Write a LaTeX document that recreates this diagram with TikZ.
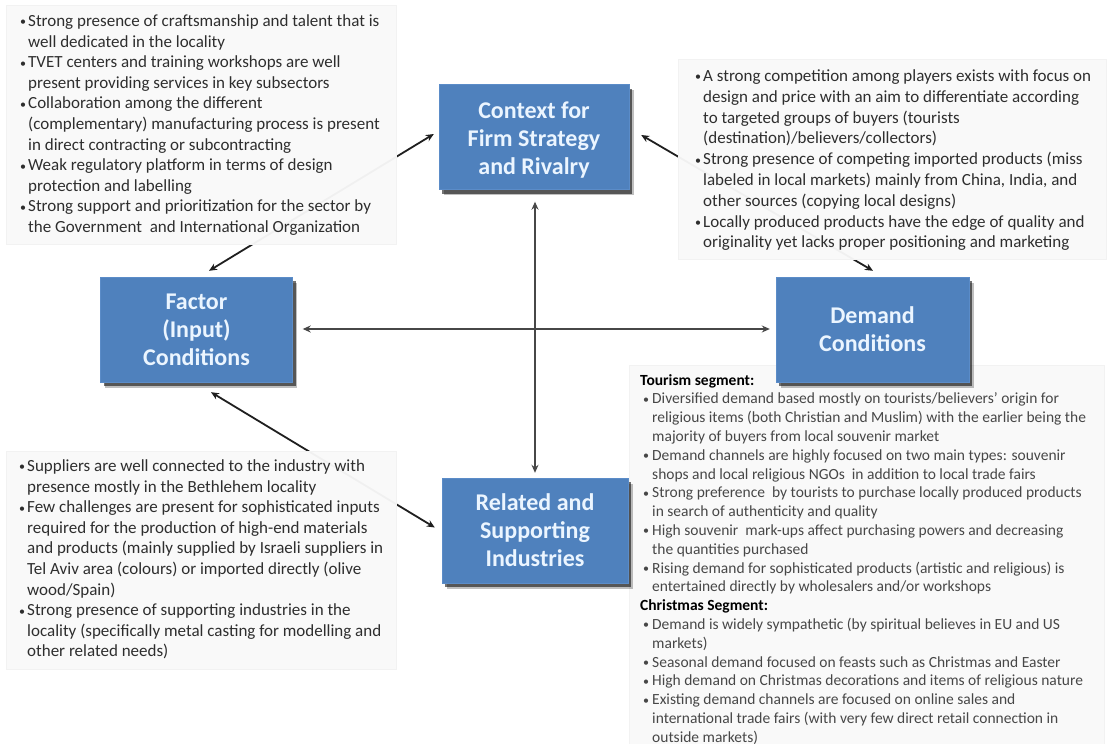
\documentclass[tikz,border=0pt]{standalone}
\usepackage{fontspec}
\setmainfont{Carlito}
\usetikzlibrary{calc,arrows.meta,shadows}

\definecolor{boxblue}{HTML}{4F81BD}
\definecolor{boxedge}{HTML}{5B8CC8}
\definecolor{boxtext}{rgb}{0.92,0.96,1}
\definecolor{panelfill}{HTML}{F9F9F9}
\definecolor{notetext}{HTML}{2E2E2E}

% small bullet mark used in the note lists
\newcommand{\dotmark}{\raisebox{0.6pt}{\fontsize{12}{12}\selectfont\textbullet}}
% bullet item with hanging indent; explicit \\ give the line breaks
\newcommand{\bul}{\par\hangindent=8pt\hangafter=1\noindent\makebox[8pt][l]{\dotmark}}
\newcommand{\bulr}{\par\hangindent=12pt\hangafter=1\noindent\hspace*{3pt}\makebox[9pt][l]{\dotmark}}

\tikzset{
  forcetext/.style={align=center, text=boxtext, inner sep=0pt,
    font=\fontsize{24}{28}\selectfont\bfseries},
  force/.style={forcetext, fill=boxblue, draw=boxedge, line width=0.8pt,
    minimum width=190pt, minimum height=105pt,
    drop shadow={shadow xshift=4.5pt, shadow yshift=-5.5pt, opacity=0.25, fill=black},
    drop shadow={shadow xshift=3pt, shadow yshift=-4pt, opacity=0.55, fill=black}},
  panel/.style={fill=panelfill, fill opacity=0.96, draw=black!5, line width=0.5pt},
  notes/.style={anchor=base west, inner sep=0pt, text=notetext},
  link/.style={line width=1.8pt, draw=black!88,
    {Stealth[length=8pt,width=7pt]}-{Stealth[length=8pt,width=7pt]}},
  axis/.style={line width=1.8pt, draw=black!72,
    {Stealth[length=8pt,width=7pt]}-{Stealth[length=8pt,width=7pt]}},
}

\begin{document}
\begin{tikzpicture}[x=1pt,y=-1pt]
\useasboundingbox[fill=white] (0,0) rectangle (1108,744);

% centres of the four determinants
\path
  (534,137)     coordinate (cctx)
  (196.5,329.5) coordinate (cfac)
  (872.5,329.5) coordinate (cdem)
  (535,530.5)   coordinate (crel);

% empty frames with the box geometry, used to route the connectors
\path node[minimum width=190pt, minimum height=105pt, inner sep=0pt] (context) at (cctx) {}
      node[minimum width=192pt, minimum height=105pt, inner sep=0pt] (factor) at (cfac) {}
      node[minimum width=193pt, minimum height=105pt, inner sep=0pt] (demand) at (cdem) {}
      node[minimum width=186pt, minimum height=105pt, inner sep=0pt] (related) at (crel) {};

% diagonal links, partly hidden by the note panels
\draw[link] ($(factor.north)+(12.5,-6)$) -- ($(context.west)+(-5,-3)$);
\draw[link] ($(context.east)+(12,-2)$) -- ($(demand.north)+(0.5,-6)$);
\draw[link] ($(factor.south)+(14.5,10)$) -- ($(related.west)+(-7,-3)$);

% note panels
\path[panel] (6,5) rectangle (396,244);
\path[panel] (678,59) rectangle (1106,259);
\path[panel] (6,451) rectangle (396,669);
\path[panel] (629,365) rectangle (1104,744);

% factor conditions notes
\node[notes] (noteTL) at (20,26.5) {\parbox[t]{420pt}{\fontsize{17}{20.6}\selectfont
\bul Strong presence of craftsmanship and talent that is\\ well dedicated in the locality
\bul TVET centers and training workshops are well\\ present providing services in key subsectors
\bul Collaboration among the different\\ (complementary) manufacturing process is present\\ in direct contracting or subcontracting
\bul Weak regulatory platform in terms of design\\ protection and labelling
\bul Strong support and prioritization for the sector by\\ the Government\ \ and International Organization}};

% firm strategy notes
\node[notes] (noteTR) at (695,81.5) {\parbox[t]{440pt}{\fontsize{17}{20.8}\selectfont
\bul A strong competition among players exists with focus on\\ design and price with an aim to differentiate according\\ to targeted groups of buyers (tourists\\ (destination)/believers/collectors)
\bul Strong presence of competing imported products (miss\\ labeled in local markets) mainly from China, India, and\\ other sources (copying local designs)
\bul Locally produced products have the edge of quality and\\ originality yet lacks proper positioning and marketing}};

% related industries notes
\node[notes] (noteBL) at (19,471.5) {\parbox[t]{420pt}{\fontsize{17}{20.6}\selectfont
\bul Suppliers are well connected to the industry with\\ presence mostly in the Bethlehem locality
\bul Few challenges are present for sophisticated inputs\\ required for the production of high-end materials\\ and products (mainly supplied by Israeli suppliers in\\ Tel Aviv area (colours) or imported directly (olive\\ wood/Spain)
\bul Strong presence of supporting industries in the\\ locality (specifically metal casting for modelling and\\ other related needs)}};

% demand notes
\node[notes, text=black!72] (noteBR) at (640,385) {\parbox[t]{480pt}{\fontsize{15.5}{18.8}\selectfont
\noindent{\color{black}\bfseries Tourism segment:}
\bulr Diversified demand based mostly on tourists/believers’ origin for\\ religious items (both Christian and Muslim) with the earlier being the\\ majority of buyers from local souvenir market
\bulr Demand channels are highly focused on two main types: souvenir\\ shops and local religious NGOs\ \ in addition to local trade fairs
\bulr Strong preference\ \ by tourists to purchase locally produced products\\ in search of authenticity and quality
\bulr High souvenir\ \ mark-ups affect purchasing powers and decreasing\\ the quantities purchased
\bulr Rising demand for sophisticated products (artistic and religious) is\\ entertained directly by wholesalers and/or workshops
\par\noindent{\color{black}\bfseries Christmas Segment:}
\bulr Demand is widely sympathetic (by spiritual believes in EU and US\\ markets)
\bulr Seasonal demand focused on feasts such as Christmas and Easter
\bulr High demand on Christmas decorations and items of religious nature
\bulr Existing demand channels are focused on online sales and\\ international trade fairs (with very few direct retail connection in\\ outside markets)}};

% the four boxes
\node[force] (ctxbox) at (context) {};
\node[forcetext] (ctxtext) at ($(context)+(0,3)$) {Context for\\Firm Strategy\\and Rivalry};
\node[force, minimum width=192pt] (facbox) at (factor) {Factor\\(Input)\\Conditions};
\node[force, minimum width=193pt] (dembox) at (demand) {Demand\\Conditions};
\node[force, minimum width=186pt] (relbox) at (related) {Related and\\Supporting\\Industries};

% the cross of straight links
\draw[axis] ($(factor.east)+(10,-0.5)$) -- ($(demand.west)+(-6,-0.5)$);
\draw[axis] ($(context.south)+(1,12)$) -- ($(related.north)+(0,-5)$);
\end{tikzpicture}
\end{document}
